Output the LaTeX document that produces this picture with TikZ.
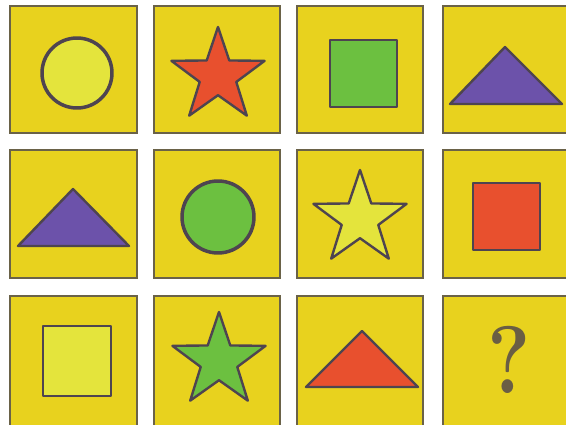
\documentclass[tikz,border=0pt]{standalone}
\usetikzlibrary{shapes.geometric}
\definecolor{tileyellow}{HTML}{E8D21E}
\definecolor{tileedge}{HTML}{6A6248}
\definecolor{shapeedge}{HTML}{4E4450}
\definecolor{lightyel}{HTML}{E4E43C}
\definecolor{redfill}{HTML}{E8502E}
\definecolor{greenfill}{HTML}{6CC040}
\definecolor{purplefill}{HTML}{6C52AA}
\definecolor{qcolor}{HTML}{6A5E44}
\begin{document}
\begin{tikzpicture}[x=1pt,y=-1pt,
  tile/.style={fill=tileyellow, draw=tileedge, line width=1.6pt},
  shp/.style={draw=shapeedge, line width=2.4pt, line join=round},
  starshape/.style={shp, star, star points=5, star point ratio=2.55, inner sep=0pt, minimum size=98pt}]
\useasboundingbox (0,0) rectangle (566,425);
\clip (0,0) rectangle (566,425);
\fill[white] (0,0) rectangle (566,425);
% row 1
\draw[tile] (10,6) rectangle (137,133);
\draw[tile] (154,6) rectangle (280,133);
\draw[tile] (297,6) rectangle (423,133);
\draw[tile] (443,6) rectangle (590,133);
% row 2
\draw[tile] (10,150) rectangle (137,278);
\draw[tile] (154,150) rectangle (280,278);
\draw[tile] (297,150) rectangle (423,278);
\draw[tile] (443,150) rectangle (590,278);
% row 3
\draw[tile] (10,296) rectangle (137,440);
\draw[tile] (154,296) rectangle (280,440);
\draw[tile] (297,296) rectangle (423,440);
\draw[tile] (443,296) rectangle (590,440);
% shapes row 1
\draw[shp, fill=lightyel, line width=3.5pt] (77,73) circle (35);
\node[starshape, fill=redfill] (s1) at (218,76) {};
\draw[shp, fill=greenfill] (330,40) rectangle (397,107);
\draw[shp, fill=purplefill] (505,47) -- (562,104) -- (450,104) -- cycle;
% shapes row 2
\draw[shp, fill=purplefill] (73,189) -- (129,246) -- (18,246) -- cycle;
\draw[shp, fill=greenfill, line width=3.5pt] (218,217) circle (36);
\node[starshape, fill=lightyel] (s2) at (360,219) {};
\draw[shp, fill=redfill] (473,183) rectangle (540,250);
% shapes row 3
\draw[shp, fill=lightyel] (43,326) rectangle (111,396);
\node[starshape, fill=greenfill] (s3) at (219,361) {};
\draw[shp, fill=redfill] (362,331) -- (418,387) -- (306,387) -- cycle;
\node[text=qcolor, font=\fontsize{96}{96}\selectfont\bfseries, xscale=0.85] (q) at (509,360) {?};
\end{tikzpicture}
\end{document}
